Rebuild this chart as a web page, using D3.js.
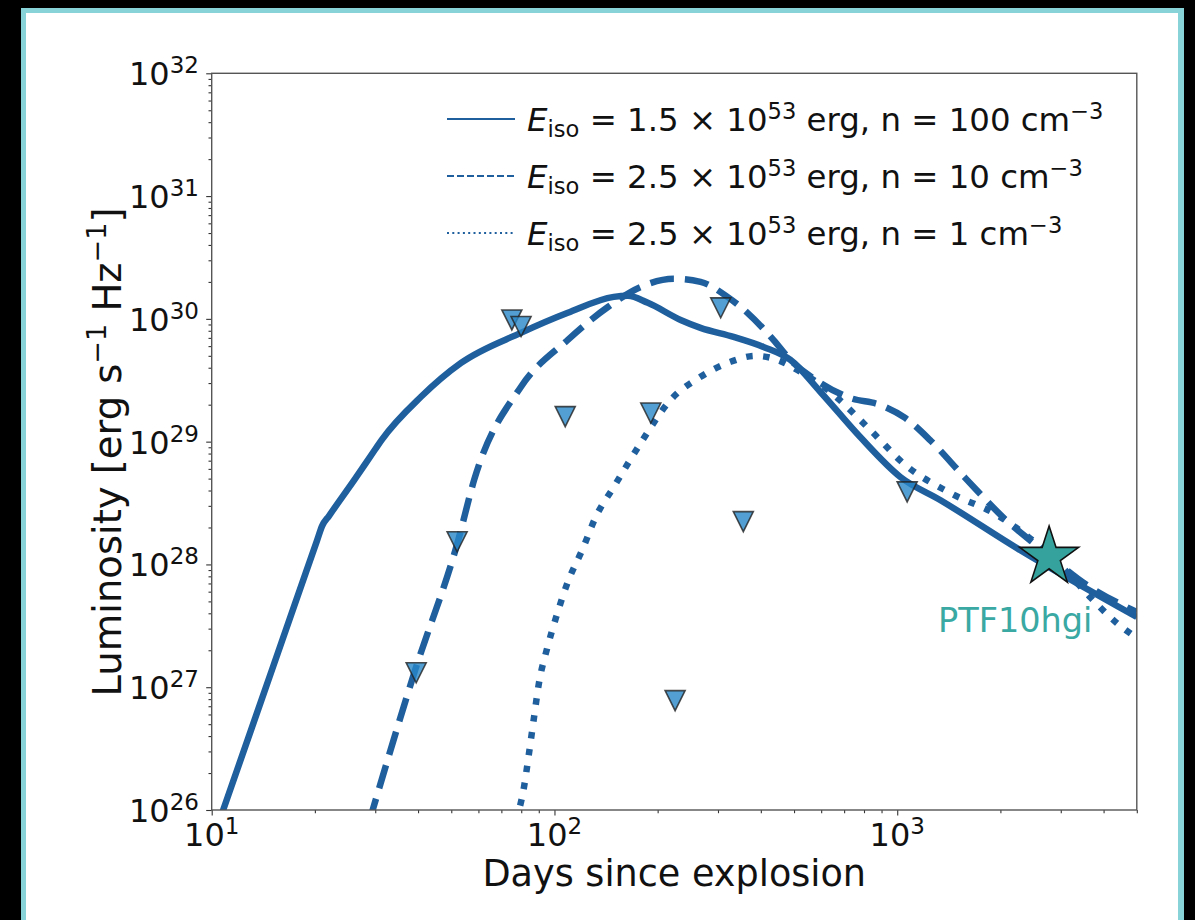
<!DOCTYPE html>
<html>
<head>
<meta charset="utf-8">
<script src="https://cdn.jsdelivr.net/npm/d3@7"></script>
<style>
  html, body { margin: 0; padding: 0; background: #000; }
  svg { display: block; }
  text { font-family: "DejaVu Sans", sans-serif; }
</style>
</head>
<body>
<svg id="chart" width="1195" height="920"></svg>
<script>
// Model light curves: days since explosion and luminosity (erg s^-1 Hz^-1)
const solidDays = [10.66, 11.05, 14.0, 17.5, 20.3, 21.0, 22.0, 26.1, 30.0, 31.3, 40.8, 53.4, 79.8, 109.4, 148.9, 163.7, 187.2, 233.4, 266.8, 333, 407, 488, 597, 780, 1021, 1334, 2281, 5000];
const solidLum  = [9e25, 1.2e26, 8.0e26, 4.79e27, 1.57e28, 2.06e28, 2.49e28, 4.9e28, 8.67e28, 1.03e29, 2.32e29, 4.38e29, 7.69e29, 1.12e30, 1.51e30, 1.54e30, 1.35e30, 9.8e29, 8.45e29, 7.13e29, 5.91e29, 4.63e29, 2.54e29, 1.09e29, 5.16e28, 3.35e28, 1.31e28, 3.73e27];

const dashedDays = [28.8, 39.0, 52.4, 58.3, 79.8, 109.4, 143.2, 178.6, 222.8, 266.8, 319.6, 365.6, 435.3, 488, 597, 729, 893, 1055, 1247, 1578, 2105, 2607, 3573, 5000];
const dashedLum  = [8e25, 1.31e27, 1.58e28, 4.88e28, 2.79e29, 6.75e29, 1.25e30, 1.82e30, 2.12e30, 2.0e30, 1.51e30, 1.12e30, 6.75e29, 4.63e29, 3.01e29, 2.27e29, 1.99e29, 1.56e29, 1.03e29, 5.07e28, 2.22e28, 1.36e28, 6.8e27, 4.1e27];

const dottedDays = [77, 81.5, 84.3, 87.2, 90.1, 95.1, 101.6, 109.4, 120.9, 132.0, 149.0, 178.6, 218.3, 266.8, 326.3, 386, 447.7, 522, 638, 833, 1055, 1427, 1955, 3126, 3648, 4368, 5000];
const dottedLum  = [8e25, 1.54e26, 2.91e26, 5.72e26, 1.08e27, 2.05e27, 3.88e27, 7.2e27, 1.34e28, 2.44e28, 4.28e28, 9.77e28, 2.19e29, 3.37e29, 4.47e29, 5.0e29, 4.63e29, 3.70e29, 2.54e29, 1.25e29, 6.47e28, 3.82e28, 2.53e28, 8.69e27, 5.44e27, 3.34e27, 2.52e27];

// Upper limits (downward triangles)
const limitDays = [75.1, 79.9, 107.5, 191.0, 305.5, 39.5, 52.0, 355.6, 224.9, 1069];
const limitLum  = [9.8e29, 8.66e29, 1.60e29, 1.71e29, 1.23e30, 1.31e27, 1.53e28, 2.23e28, 7.77e26, 3.90e28];

// Detection
const detName = "PTF10hgi";
const detDay = 2774;
const detLum = 1.15e28;

// Axis ticks
const xMajor = [10, 100, 1000];
const xMajorExp = ["1", "2", "3"];
const yMajor = [1e26, 1e27, 1e28, 1e29, 1e30, 1e31, 1e32];
const yMajorExp = ["26", "27", "28", "29", "30", "31", "32"];

// Legend entries
const legendEnergy = ["1.5", "2.5", "2.5"];
const legendDensity = ["100", "10", "1"];

const lineColor = "#1f5f9e";
const svg = d3.select("#chart");

// Frame
svg.append("rect").attr("x", 0).attr("y", 0).attr("width", 1195).attr("height", 920).attr("fill", "#000");
svg.append("rect").attr("x", 21).attr("y", 8).attr("width", 1163).attr("height", 920).attr("fill", "#87d3d7");
svg.append("rect").attr("x", 26).attr("y", 13).attr("width", 1152).attr("height", 920).attr("fill", "#fff");

const x = d3.scaleLog().domain([10, 5000]).range([211.7, 1136.8]);
const y = d3.scaleLog().domain([1e26, 1e32]).range([810, 73.3]);

const [x0, x1] = x.range();
const [y1, y0] = y.range();

svg.append("clipPath").attr("id", "plotclip")
  .append("rect").attr("x", x0).attr("y", y0).attr("width", x1 - x0).attr("height", y1 - y0);

// Minor ticks
const xMinor = [];
[10, 100, 1000].forEach(d => { for (let k = 2; k <= 9; k++) { const v = d * k; if (v <= 5000) xMinor.push(v); } });
const yMinor = [];
for (let e = 26; e < 32; e++) for (let k = 2; k <= 9; k++) yMinor.push(k * Math.pow(10, e));

const axX = svg.append("g").attr("transform", `translate(0,${y1})`);
axX.append("g").call(d3.axisBottom(x).tickValues(xMinor).tickSize(3.2).tickFormat(""));
axX.append("g").call(d3.axisBottom(x).tickValues(xMajor).tickSize(5.5).tickFormat(""));
const axY = svg.append("g").attr("transform", `translate(${x0},0)`);
axY.append("g").call(d3.axisLeft(y).tickValues(yMinor).tickSize(3.2).tickFormat(""));
axY.append("g").call(d3.axisLeft(y).tickValues(yMajor).tickSize(5.5).tickFormat(""));
svg.selectAll(".domain").remove();
svg.selectAll(".tick line").attr("stroke", "#333").attr("stroke-width", 1.1);

// Tick labels with superscript exponents
const xl = svg.append("g").selectAll("text").data(xMajor).join("text")
  .attr("x", d => x(d)).attr("y", 846).attr("text-anchor", "middle")
  .attr("font-size", 32).attr("fill", "#111");
xl.append("tspan").text("10");
xl.append("tspan").attr("font-size", 23).attr("dy", -12).text((d, i) => xMajorExp[i]);

const yl = svg.append("g").selectAll("text").data(yMajor).join("text")
  .attr("x", 199).attr("y", d => y(d) + 12).attr("text-anchor", "end")
  .attr("font-size", 32).attr("fill", "#111");
yl.append("tspan").text("10");
yl.append("tspan").attr("font-size", 23).attr("dy", -12).text((d, i) => yMajorExp[i]);

// Model curves
const plot = svg.append("g").attr("clip-path", "url(#plotclip)");
const line = d3.line().x(d => x(d[0])).y(d => y(d[1])).curve(d3.curveMonotoneX);
const series = [
  { days: solidDays, lum: solidLum, dash: null },
  { days: dashedDays, lum: dashedLum, dash: "24 11" },
  { days: dottedDays, lum: dottedLum, dash: "6.5 10.5" }
];
series.forEach(s => {
  plot.append("path")
    .datum(d3.zip(s.days, s.lum))
    .attr("d", line)
    .attr("fill", "none")
    .attr("stroke", lineColor)
    .attr("stroke-width", 6.5)
    .attr("stroke-linejoin", "round")
    .attr("stroke-dasharray", s.dash);
});

// Upper-limit triangles
const tri = d3.path();
tri.moveTo(-10, -10); tri.lineTo(10, -10); tri.lineTo(0, 10); tri.closePath();
plot.append("g").selectAll("path").data(d3.zip(limitDays, limitLum)).join("path")
  .attr("transform", d => `translate(${x(d[0])},${y(d[1])})`)
  .attr("d", tri.toString())
  .attr("fill", "rgb(40,135,200)").attr("fill-opacity", 0.8)
  .attr("stroke", "#222").attr("stroke-opacity", 0.8).attr("stroke-width", 1.6)
  .attr("stroke-linejoin", "miter");

// Detection star
const R = 31, r = R * 0.381966;
const starPts = d3.range(10).map(i => {
  const a = -Math.PI / 2 + i * Math.PI / 5;
  const rad = i % 2 === 0 ? R : r;
  return [rad * Math.cos(a), rad * Math.sin(a)];
});
svg.append("path")
  .attr("transform", `translate(${x(detDay)},${y(detLum)})`)
  .attr("d", d3.line()(starPts) + "Z")
  .attr("fill", "#35a29d").attr("stroke", "#111").attr("stroke-width", 1.6);
svg.append("text").attr("x", 938).attr("y", 632).attr("font-size", 33.5)
  .attr("fill", "#3aa8a3").text(detName);

// Frame spines
svg.append("rect").attr("x", x0).attr("y", y0).attr("width", x1 - x0).attr("height", y1 - y0)
  .attr("fill", "none").attr("stroke", "#555").attr("stroke-width", 1.4);

// Axis titles
svg.append("text").attr("x", (x0 + x1) / 2).attr("y", 886).attr("text-anchor", "middle")
  .attr("font-size", 36.6).attr("fill", "#111").text("Days since explosion");
const yt = svg.append("text").attr("transform", "translate(121,452) rotate(-90)")
  .attr("text-anchor", "middle").attr("font-size", 38.5).attr("fill", "#111");
yt.append("tspan").text("Luminosity [erg s");
yt.append("tspan").attr("font-size", 27).attr("dy", -15).text("\u22121");
yt.append("tspan").attr("dy", 15).text(" Hz");
yt.append("tspan").attr("font-size", 27).attr("dy", -15).text("\u22121");
yt.append("tspan").attr("dy", 15).text("]");

// Legend
const legendRows = [119, 176, 233];
const legendDash = [null, "7 3", "2 3.3"];
const lg = svg.append("g");
legendRows.forEach((ry, i) => {
  lg.append("line").attr("x1", 447).attr("x2", 515).attr("y1", ry).attr("y2", ry)
    .attr("stroke", lineColor).attr("stroke-width", 2.2).attr("stroke-dasharray", legendDash[i]);
  const t = lg.append("text").attr("x", 527).attr("y", ry + 12).attr("font-size", 32.4).attr("fill", "#111");
  t.append("tspan").attr("font-style", "italic").text("E");
  t.append("tspan").attr("font-size", 22.6).attr("dy", 6).text("iso");
  t.append("tspan").attr("dy", -6).text(` = ${legendEnergy[i]} \u00d7 10`);
  t.append("tspan").attr("font-size", 22.6).attr("dy", -12).text("53");
  t.append("tspan").attr("dy", 12).text(` erg, n = ${legendDensity[i]} cm`);
  t.append("tspan").attr("font-size", 22.6).attr("dy", -12).text("\u22123");
});
</script>
</body>
</html>
